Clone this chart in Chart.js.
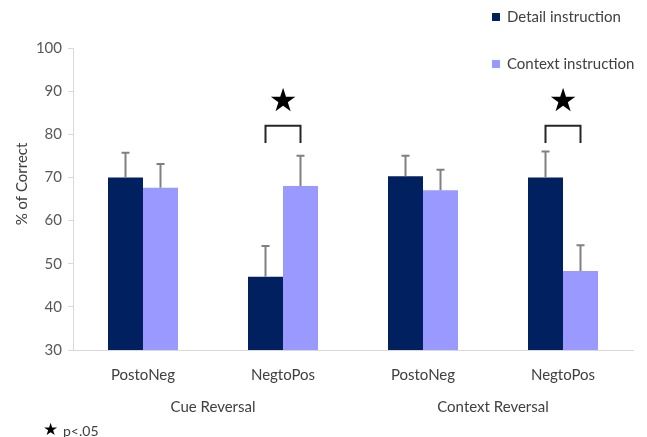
<!DOCTYPE html>
<html lang="en">
<head>
    <meta charset="UTF-8">
    <title>% of Correct by instruction</title>
    <style>
        html, body { margin: 0; padding: 0; background: #fff; }
        #wrap { width: 647px; height: 437px; }
    </style>
</head>
<body>
    <div id="wrap"><canvas id="myChart" width="647" height="437"></canvas></div>

    <script src="https://cdn.jsdelivr.net/npm/chart.js"></script>
    <script>
        // conditions and reversal groups
        const conditions = ['PostoNeg', 'NegtoPos', 'PostoNeg', 'NegtoPos'];
        const groups = [
            { label: 'Cue Reversal', from: 0, to: 1 },
            { label: 'Context Reversal', from: 2, to: 3 }
        ];
        const seriesNames = ['Detail instruction', 'Context instruction'];

        // mean % correct and upper error (SE)
        const detailValues = [70, 47, 70.3, 70];
        const contextValues = [67.6, 68, 67, 48.3];
        const detailErr = [5.7, 7.1, 4.7, 6.0];
        const contextErr = [5.5, 7.0, 4.8, 6.0];

        // significant pairs (category index)
        const sigPairs = [1, 3];
        const yTicks = [30, 40, 50, 60, 70, 80, 90, 100];

        const colors = ['#002060', '#9999ff'];
        const textColor = '#404040';
        const FONT = 'Lato';

        const errors = [detailErr, contextErr];

        const annotations = {
            id: 'annotations',
            afterDatasetsDraw(chart) {
                const ctx = chart.ctx;
                const y = chart.scales.y;
                const x = chart.scales.x;
                ctx.save();

                // upward error bars
                ctx.strokeStyle = '#808080';
                ctx.lineWidth = 2;
                chart.data.datasets.forEach((ds, di) => {
                    chart.getDatasetMeta(di).data.forEach((bar, i) => {
                        const top = y.getPixelForValue(ds.data[i] + errors[di][i]);
                        ctx.beginPath();
                        ctx.moveTo(bar.x, bar.y);
                        ctx.lineTo(bar.x, top);
                        ctx.moveTo(bar.x - 4, top);
                        ctx.lineTo(bar.x + 4, top);
                        ctx.stroke();
                    });
                });

                // brackets and stars
                ctx.strokeStyle = '#262626';
                ctx.lineWidth = 2;
                sigPairs.forEach(i => {
                    const a = chart.getDatasetMeta(0).data[i].x;
                    const b = chart.getDatasetMeta(1).data[i].x;
                    const top = y.getPixelForValue(82);
                    const leg = y.getPixelForValue(78);
                    ctx.beginPath();
                    ctx.moveTo(a, leg);
                    ctx.lineTo(a, top);
                    ctx.lineTo(b, top);
                    ctx.lineTo(b, leg);
                    ctx.stroke();
                    ctx.fillStyle = '#000';
                    ctx.font = '32px "DejaVu Sans"';
                    ctx.textAlign = 'center';
                    ctx.textBaseline = 'middle';
                    ctx.fillText('★', (a + b) / 2, y.getPixelForValue(87.3));
                });

                // group labels under the categories
                ctx.fillStyle = textColor;
                ctx.font = '15px ' + FONT;
                ctx.textAlign = 'center';
                ctx.textBaseline = 'middle';
                groups.forEach(g => {
                    const cx = (x.getPixelForValue(g.from) + x.getPixelForValue(g.to)) / 2;
                    ctx.fillText(g.label, cx, 407);
                });

                // y axis title
                ctx.save();
                ctx.translate(22, 184);
                ctx.rotate(-Math.PI / 2);
                ctx.fillText('% of Correct', 0, 0);
                ctx.restore();

                // legend
                ctx.textAlign = 'left';
                seriesNames.forEach((name, i) => {
                    const ly = i === 0 ? 17 : 64;
                    ctx.fillStyle = colors[i];
                    ctx.fillRect(492, ly - 4, 8, 8);
                    ctx.fillStyle = textColor;
                    ctx.font = '15px ' + FONT;
                    ctx.fillText(name, 507, ly);
                });

                // significance note
                ctx.fillStyle = '#000';
                ctx.font = '17px "DejaVu Sans"';
                ctx.fillText('★', 43, 431);
                ctx.fillStyle = textColor;
                ctx.font = '14px ' + FONT;
                ctx.fillText('p<.05', 63, 431);

                ctx.restore();
            }
        };

        new Chart(document.getElementById('myChart').getContext('2d'), {
            type: 'bar',
            data: {
                labels: conditions,
                datasets: [
                    { label: seriesNames[0], data: detailValues, backgroundColor: colors[0] },
                    { label: seriesNames[1], data: contextValues, backgroundColor: colors[1] }
                ]
            },
            options: {
                responsive: false,
                animation: false,
                layout: { padding: { left: 0, right: 14, top: 48, bottom: 0 } },
                plugins: {
                    legend: { display: false },
                    tooltip: { enabled: false }
                },
                datasets: {
                    bar: { categoryPercentage: 0.5, barPercentage: 1.0 }
                },
                scales: {
                    x: {
                        grid: { display: false },
                        border: { display: true, color: '#d9d9d9', width: 1 },
                        ticks: { color: textColor, font: { family: FONT, size: 15 }, padding: 8 },
                        afterFit(scale) { scale.height = 87; }
                    },
                    y: {
                        min: 30,
                        max: 100,
                        afterBuildTicks(scale) { scale.ticks = yTicks.map(v => ({ value: v })); },
                        grid: { drawOnChartArea: false, tickLength: 5, color: '#d9d9d9' },
                        border: { display: true, color: '#d9d9d9', width: 1 },
                        ticks: { color: '#595959', font: { family: FONT, size: 15 }, padding: 6 },
                        afterFit(scale) { scale.width = 73; }
                    }
                }
            },
            plugins: [annotations]
        });
    </script>
</body>
</html>
